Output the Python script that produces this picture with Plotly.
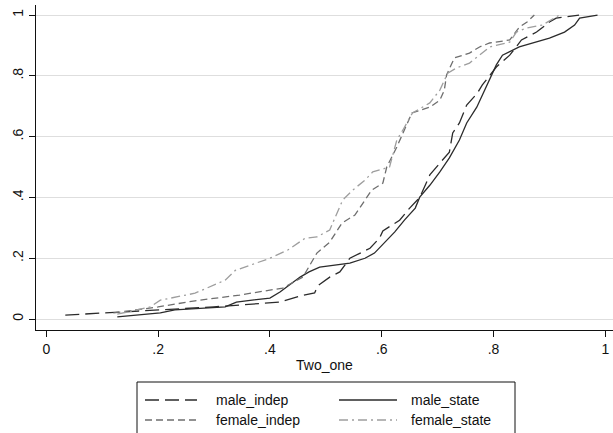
import plotly.graph_objects as go

# ---- data ----
male_indep_x = [0.034, 0.20, 0.30, 0.418, 0.454, 0.48, 0.486, 0.507, 0.525, 0.543, 0.579, 0.596, 0.602, 0.632,
                0.65, 0.668, 0.677, 0.686, 0.704, 0.721, 0.727, 0.739, 0.752, 0.771, 0.78, 0.805, 0.829, 0.85,
                0.877, 0.9, 0.912, 0.953]
male_indep_y = [0.013, 0.03, 0.04, 0.056, 0.076, 0.086, 0.11, 0.138, 0.155, 0.2, 0.233, 0.266, 0.29, 0.325,
                0.365, 0.40, 0.44, 0.474, 0.513, 0.549, 0.612, 0.645, 0.704, 0.743, 0.77, 0.829, 0.868, 0.918,
                0.944, 0.977, 0.99, 1.0]

male_state_x = [0.127, 0.204, 0.23, 0.32, 0.34, 0.40, 0.418, 0.436, 0.454, 0.47, 0.489, 0.543, 0.57, 0.587,
                0.605, 0.623, 0.641, 0.66, 0.668, 0.686, 0.704, 0.721, 0.739, 0.752, 0.77, 0.78, 0.798, 0.805,
                0.816, 0.846, 0.9, 0.927, 0.945, 0.954, 0.986]
male_state_y = [0.007, 0.02, 0.03, 0.04, 0.056, 0.069, 0.089, 0.112, 0.138, 0.155, 0.171, 0.184, 0.2, 0.217,
                0.25, 0.286, 0.326, 0.365, 0.401, 0.44, 0.484, 0.53, 0.589, 0.645, 0.697, 0.737, 0.812, 0.836,
                0.868, 0.895, 0.924, 0.944, 0.967, 0.99, 1.0]

female_indep_x = [0.12, 0.2, 0.266, 0.346, 0.423, 0.459, 0.484, 0.507, 0.529, 0.552, 0.57, 0.582, 0.602, 0.609,
                  0.627, 0.638, 0.654, 0.686, 0.704, 0.712, 0.716, 0.73, 0.757, 0.775, 0.793, 0.829, 0.846,
                  0.86, 0.873]
female_indep_y = [0.02, 0.04, 0.06, 0.079, 0.102, 0.138, 0.217, 0.253, 0.316, 0.342, 0.391, 0.424, 0.447, 0.5,
                  0.566, 0.612, 0.678, 0.697, 0.72, 0.753, 0.803, 0.859, 0.875, 0.895, 0.908, 0.918, 0.96,
                  0.977, 1.0]

female_state_x = [0.127, 0.186, 0.204, 0.266, 0.32, 0.338, 0.4, 0.432, 0.463, 0.484, 0.507, 0.52, 0.53, 0.548,
                  0.57, 0.584, 0.614, 0.627, 0.638, 0.655, 0.686, 0.704, 0.718, 0.734, 0.757, 0.775, 0.793,
                  0.829, 0.841, 0.859, 0.887, 0.918]
female_state_y = [0.016, 0.04, 0.062, 0.085, 0.128, 0.16, 0.2, 0.227, 0.266, 0.27, 0.293, 0.349, 0.391, 0.424,
                  0.457, 0.484, 0.5, 0.589, 0.622, 0.678, 0.711, 0.753, 0.809, 0.826, 0.842, 0.868, 0.895,
                  0.911, 0.944, 0.957, 0.967, 1.0]

x_ticks = [0, 0.2, 0.4, 0.6, 0.8, 1]
x_ticklabels = ["0", ".2", ".4", ".6", ".8", "1"]
y_ticks = [0, 0.2, 0.4, 0.6, 0.8, 1]
y_ticklabels = ["0", ".2", ".4", ".6", ".8", "1"]

series = [
    ("male_indep", male_indep_x, male_indep_y, "#2b2b2b", "14px,6px"),
    ("male_state", male_state_x, male_state_y, "#2b2b2b", "solid"),
    ("female_indep", female_indep_x, female_indep_y, "#6e6e6e", "7px,4px"),
    ("female_state", female_state_x, female_state_y, "#9e9e9e", "9px,4px,2px,4px"),
]

FONT = "Liberation Sans, Arial, sans-serif"
W, H = 613, 433
ML, MR, MT, MB = 36, 0, 5, 103

fig = go.Figure()
for name, xs, ys, col, dash in series:
    fig.add_trace(go.Scatter(x=xs, y=ys, mode="lines", name=name,
                             line=dict(color=col, width=1.3, dash=dash), showlegend=False))

fig.update_layout(
    width=W, height=H,
    margin=dict(l=ML, r=MR, t=MT, b=MB, pad=0),
    paper_bgcolor="white", plot_bgcolor="white",
    font=dict(family=FONT, size=14, color="#111"),
)
fig.update_xaxes(range=[-0.0184, 1.0137], tickvals=x_ticks, ticktext=x_ticklabels,
                 showgrid=False, zeroline=False, showline=True, linecolor="#111", linewidth=1,
                 ticks="outside", ticklen=6, tickcolor="#111", tickfont=dict(size=14),
                 title=dict(text="Two_one", font=dict(size=14), standoff=4))
fig.update_yaxes(range=[-0.036, 1.033], tickvals=y_ticks, ticktext=y_ticklabels, tickangle=-90,
                 showgrid=True, gridcolor="#dedede", gridwidth=1, zeroline=False,
                 showline=True, linecolor="#111", linewidth=1, tickfont=dict(size=14),
                 ticks="outside", ticklen=6, tickcolor="#111")

# ---- legend drawn in pixel coordinates (converted to paper) ----
pw = W - ML - MR
ph = H - MT - MB
def px(xp):
    return (xp - ML) / pw
def py(yp):
    return (H - MB - yp) / ph

fig.add_shape(type="rect", xref="paper", yref="paper",
              x0=px(137), x1=px(515), y0=py(382), y1=py(450),
              line=dict(color="#111", width=1), fillcolor="white", layer="above")
rows = [400, 420]
cols = [(145, 197, 214), (339, 397, 409)]
for i, (name, xs, ys, col, dash) in enumerate(series):
    r = rows[i // 2]
    c0, c1, ct = cols[i % 2]
    fig.add_shape(type="line", xref="paper", yref="paper",
                  x0=px(c0), x1=px(c1), y0=py(r), y1=py(r),
                  line=dict(color=col, width=1.3, dash=dash))
    fig.add_annotation(text=name, xref="paper", yref="paper", x=px(ct), y=py(r),
                       xanchor="left", yanchor="middle", showarrow=False,
                       font=dict(size=14, color="#111", family=FONT))

fig.write_html("out.html")
